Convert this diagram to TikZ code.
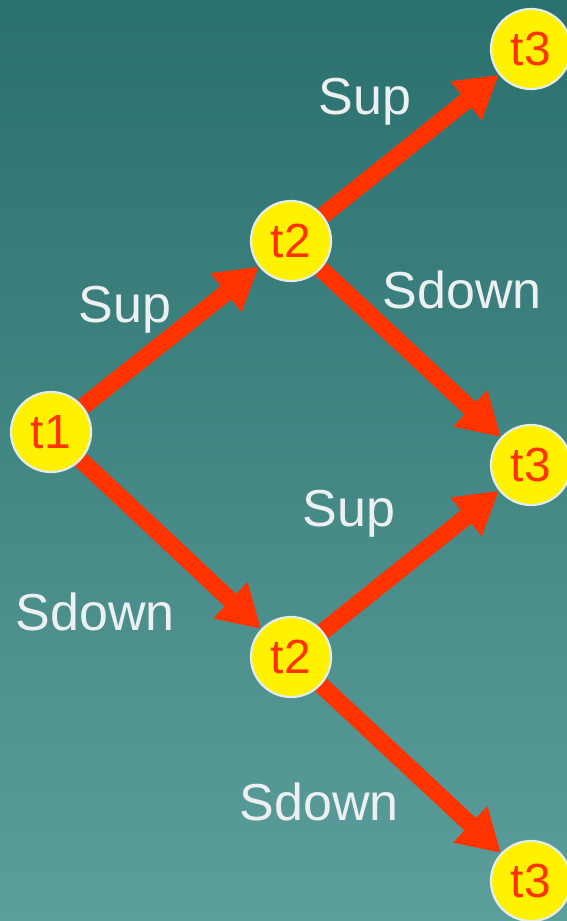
\documentclass[tikz,border=0pt]{standalone}
\usepackage{fontspec}
\setmainfont{Liberation Sans}
\usetikzlibrary{arrows.meta}
\definecolor{bgtop}{RGB}{42,112,110}
\definecolor{bgbot}{RGB}{92,158,156}
\definecolor{arr}{RGB}{255,51,0}
\definecolor{rim}{RGB}{228,236,236}
\definecolor{lbl}{RGB}{236,240,240}
\pgfdeclarelayer{back}
\pgfdeclarelayer{mid}
\pgfsetlayers{back,mid,main}
\begin{document}
\begin{tikzpicture}[x=1pt,y=-1pt,
  state/.style={circle,fill=yellow,draw=rim,line width=2.2pt,minimum size=80pt,inner sep=0pt,
    text=arr,font=\fontsize{48}{48}\selectfont},
  conn/.style={draw=arr,line width=17pt,-{Triangle[length=42pt,width=47pt]}},
  lab/.style={text=lbl,font=\fontsize{52}{52}\selectfont,inner sep=0pt}]
\begin{pgfonlayer}{back}
\shade[top color=bgtop,bottom color=bgbot] (0,0) rectangle (567,921);
\end{pgfonlayer}
\useasboundingbox (0,0) rectangle (567,921);
\node[state] (t1) at (51,432) {t1};
\node[state] (t2a) at (291,241) {t2};
\node[state] (t2b) at (291,657) {t2};
\node[state] (t3a) at (531,49) {t3};
\node[state] (t3b) at (531,465) {t3};
\node[state] (t3c) at (531,881) {t3};
\begin{pgfonlayer}{mid}
\path[conn] (t1) -- (t2a);
\path[conn] (t1) -- (t2b);
\path[conn] (t2a) -- (t3a);
\path[conn] (t2a) -- (t3b);
\path[conn] (t2b) -- (t3b);
\path[conn] (t2b) -- (t3c);
\end{pgfonlayer}
\node[lab] (l1) at (365,102) {Sup};
\node[lab] (l2) at (462,290) {Sdown};
\node[lab] (l3) at (125,310) {Sup};
\node[lab] (l4) at (349,514) {Sup};
\node[lab] (l5) at (95,612) {Sdown};
\node[lab] (l6) at (319,802) {Sdown};
\end{tikzpicture}
\end{document}
